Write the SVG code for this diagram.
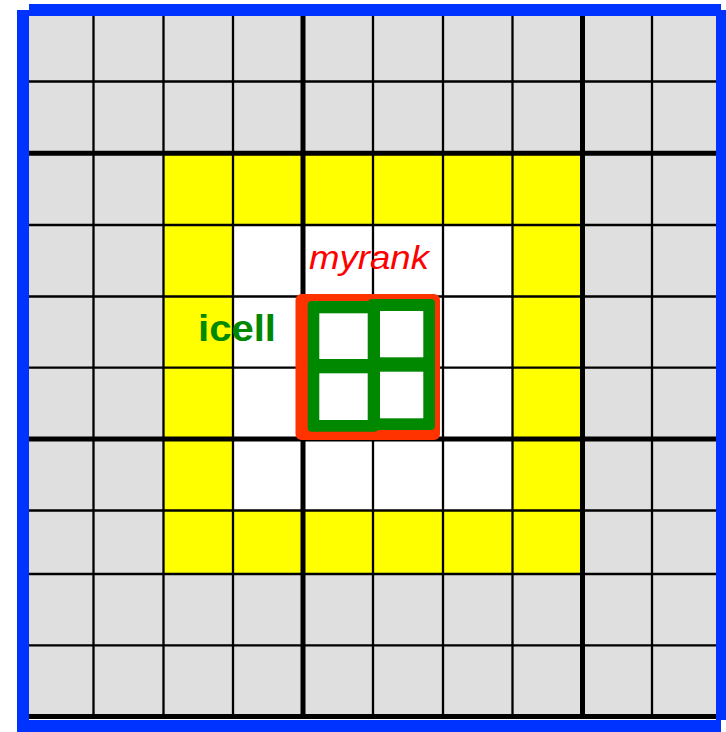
<svg xmlns="http://www.w3.org/2000/svg" width="726" height="732" viewBox="0 0 726 732">
<style>
.thin{stroke:#000;stroke-width:2.3;fill:none}
.thick{stroke:#000;stroke-width:5;fill:none}
.blue{fill:#0033ff}
.win{fill:#fff}
</style>
<rect width="726" height="732" fill="#fff"/>
<g id="grid">
<rect x="29" y="16" width="687" height="701" fill="#dfdfdf"/>
<rect x="163.5" y="153.3" width="419" height="420.7" fill="#ffff00"/>
<rect x="233" y="225" width="279.5" height="285.5" fill="#fff"/>
<path class="thin" d="M93.5 16V717M163.5 16V717M233 16V717M373 16V717M443 16V717M512.5 16V717M652 16V717M29 81.5H716M29 225H716M29 296.5H716M29 367.7H716M29 510.5H716M29 574H716M29 645.3H716"/>
<path class="thick" d="M303 16V717M582.5 16V717M29 153.3H716M29 439H716M29 716.5H716"/>
</g>
<g id="myrank-block">
<rect x="295.5" y="294" width="144.5" height="146" rx="6" fill="#ff3300"/>
<rect x="307.7" y="301" width="70.6" height="130.7" rx="4" fill="#008800"/>
<rect x="368" y="299" width="67" height="131" rx="4" fill="#008800"/>
<rect class="win" x="319.3" y="313.3" width="48.4" height="45.7"/>
<rect class="win" x="319.3" y="373.3" width="48.4" height="46.7"/>
<rect class="win" x="380" y="311" width="43.3" height="46.3"/>
<rect class="win" x="380" y="371.7" width="43.3" height="46.6"/>
</g>
<g id="labels">
<text x="309" y="268.5" font-family="Liberation Sans, Arial, sans-serif" font-style="italic" font-size="33" fill="#ff0000" textLength="120" lengthAdjust="spacingAndGlyphs">myrank</text>
<text x="198" y="340.5" font-family="Liberation Sans, Arial, sans-serif" font-weight="bold" font-size="37" fill="#008800" textLength="78" lengthAdjust="spacingAndGlyphs">icell</text>
</g>
<g id="border">
<rect class="blue" x="29" y="4" width="692" height="12"/>
<rect class="blue" x="17" y="10" width="12" height="722"/>
<rect class="blue" x="716" y="10" width="10" height="710"/>
<rect class="blue" x="17" y="720" width="704" height="12"/>
</g>
</svg>
